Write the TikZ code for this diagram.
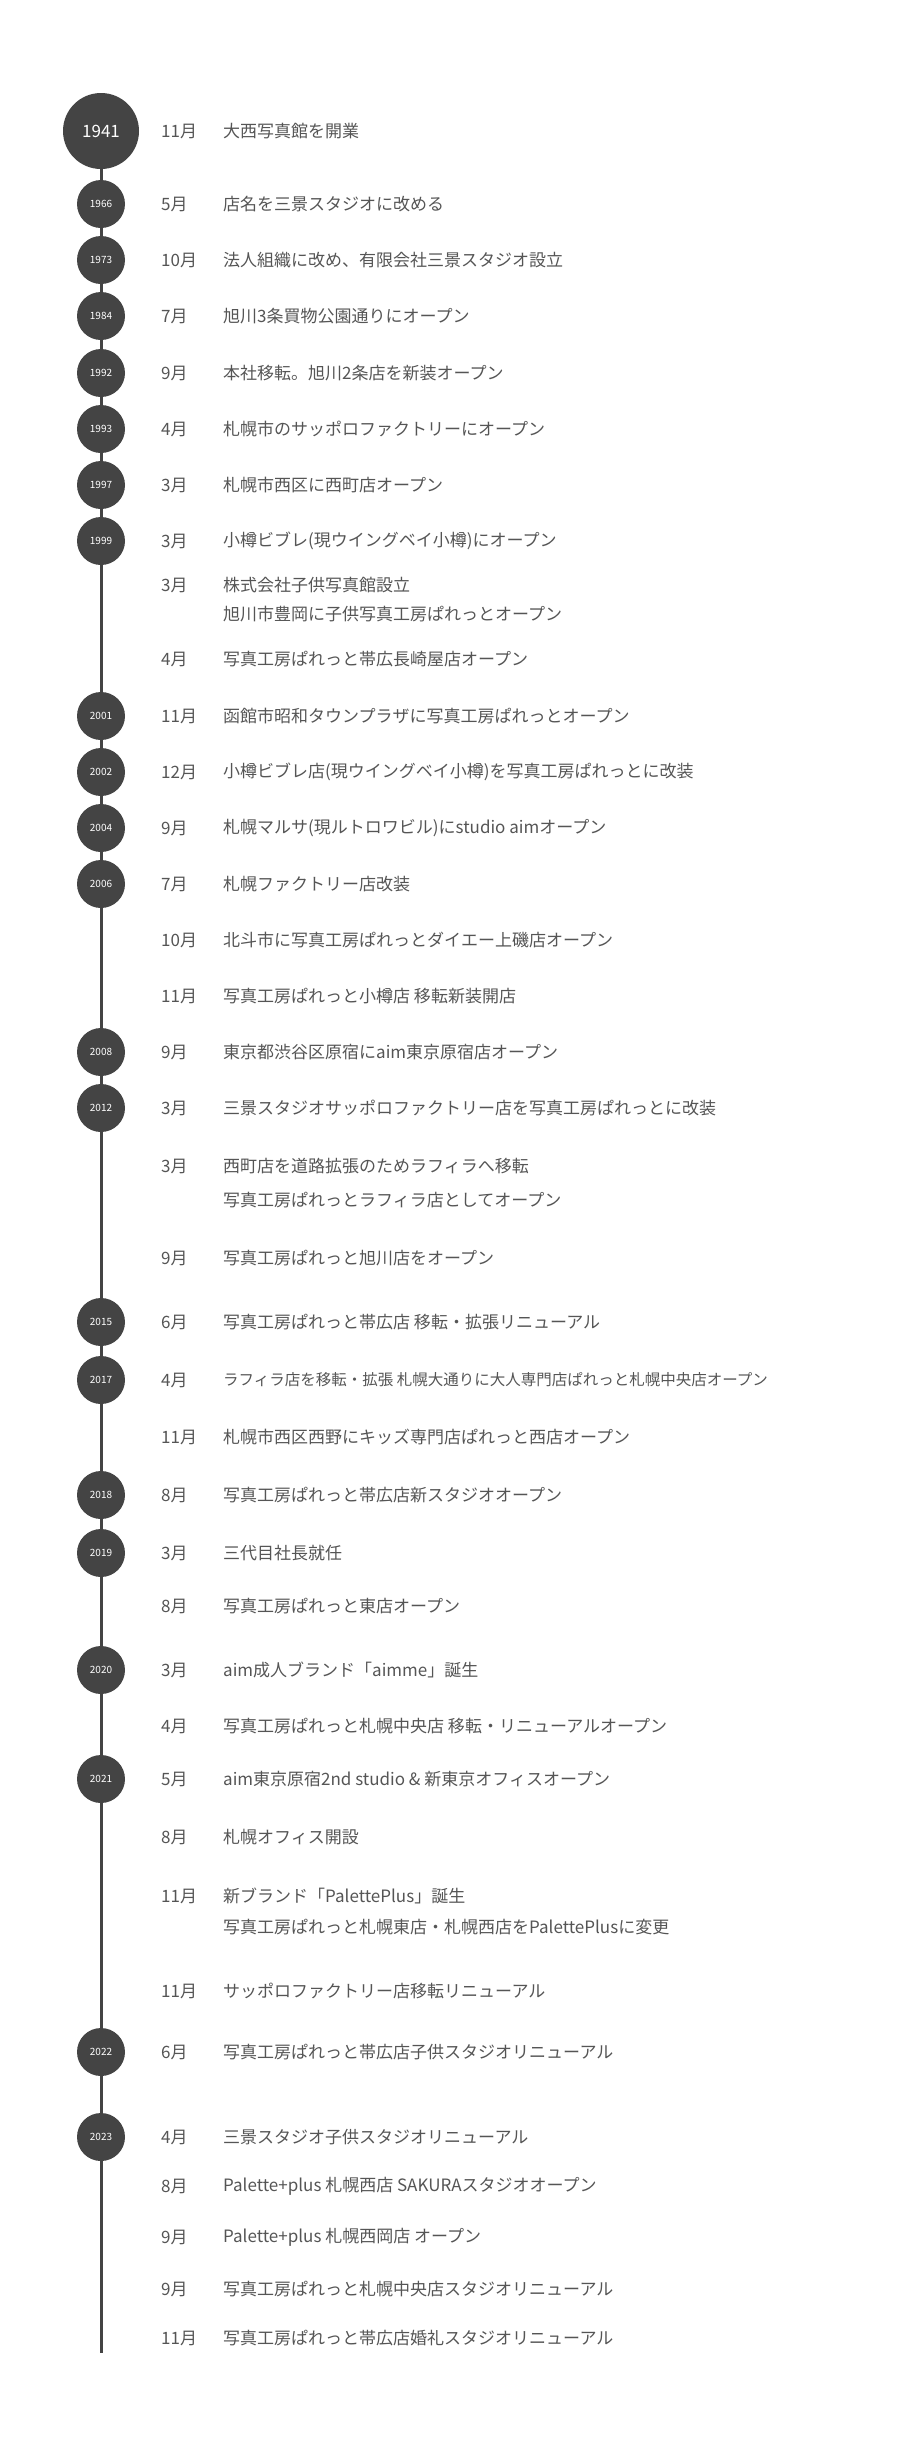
\documentclass[tikz,border=0pt]{standalone}
\usepackage{fontspec}
\setmainfont{Noto Sans CJK JP}
\definecolor{dotgray}{RGB}{68,68,68}
\definecolor{txtgray}{RGB}{85,85,85}
\tikzset{
  yeardot/.style={circle,fill=dotgray,text=white,minimum size=48pt,inner sep=0pt,font=\fontsize{10}{10}\selectfont},
  bigdot/.style={yeardot,minimum size=76pt,font=\fontsize{17}{17}\selectfont},
  monthtxt/.style={anchor=west,inner sep=0pt,text=txtgray,font=\fontsize{17}{17}\selectfont},
  eventtxt/.style={monthtxt}
}
\begin{document}
\begin{tikzpicture}[x=1pt,y=1pt,yscale=-1,xscale=1]
\useasboundingbox (0,0) rectangle (900,2444);
%Timeline axis
\coordinate (axisend) at (101,2353);
\node[bigdot] (y1941) at (101,131) {1941};
\draw[dotgray,line width=3pt] (y1941) -- (axisend);
%Year dots
\foreach \yy/\yr in {204/1966,260/1973,316/1984,373/1992,429/1993,485/1997,541/1999,716/2001,772/2002,828/2004,884/2006,1052/2008,1108/2012,1322/2015,1380/2017,1495/2018,1553/2019,1670/2020,1779/2021,2052/2022,2137/2023}
  \node[yeardot] (y\yr) at (101,\yy) {\yr};
%Months and events
\foreach \yy/\mo/\ev [count=\i] in {
  131/11月/大西写真館を開業,
  204/5月/店名を三景スタジオに改める,
  260/10月/法人組織に改め、有限会社三景スタジオ設立,
  316/7月/旭川3条買物公園通りにオープン,
  373/9月/本社移転。旭川2条店を新装オープン,
  429/4月/札幌市のサッポロファクトリーにオープン,
  485/3月/札幌市西区に西町店オープン,
  541/3月/小樽ビブレ(現ウイングベイ小樽)にオープン,
  585/3月/株式会社子供写真館設立,
  614//旭川市豊岡に子供写真工房ぱれっとオープン,
  659/4月/写真工房ぱれっと帯広長崎屋店オープン,
  716/11月/函館市昭和タウンプラザに写真工房ぱれっとオープン,
  772/12月/小樽ビブレ店(現ウイングベイ小樽)を写真工房ぱれっとに改装,
  828/9月/札幌マルサ(現ルトロワビル)にstudio aimオープン,
  884/7月/札幌ファクトリー店改装,
  940/10月/北斗市に写真工房ぱれっとダイエー上磯店オープン,
  996/11月/写真工房ぱれっと小樽店 移転新装開店,
  1052/9月/東京都渋谷区原宿にaim東京原宿店オープン,
  1108/3月/三景スタジオサッポロファクトリー店を写真工房ぱれっとに改装,
  1166/3月/西町店を道路拡張のためラフィラへ移転,
  1200//写真工房ぱれっとラフィラ店としてオープン,
  1258/9月/写真工房ぱれっと旭川店をオープン,
  1322/6月/写真工房ぱれっと帯広店 移転・拡張リニューアル,
  1380/4月/{\fontsize{15.5}{15.5}\selectfont ラフィラ店を移転・拡張 札幌大通りに大人専門店ぱれっと札幌中央店オープン},
  1437/11月/札幌市西区西野にキッズ専門店ぱれっと西店オープン,
  1495/8月/写真工房ぱれっと帯広店新スタジオオープン,
  1553/3月/三代目社長就任,
  1606/8月/写真工房ぱれっと東店オープン,
  1670/3月/aim成人ブランド「aimme」誕生,
  1726/4月/写真工房ぱれっと札幌中央店 移転・リニューアルオープン,
  1779/5月/aim東京原宿2nd studio \& 新東京オフィスオープン,
  1837/8月/札幌オフィス開設,
  1896/11月/新ブランド「PalettePlus」誕生,
  1927//写真工房ぱれっと札幌東店・札幌西店をPalettePlusに変更,
  1991/11月/サッポロファクトリー店移転リニューアル,
  2052/6月/写真工房ぱれっと帯広店子供スタジオリニューアル,
  2137/4月/三景スタジオ子供スタジオリニューアル,
  2186/8月/Palette+plus 札幌西店 SAKURAスタジオオープン,
  2237/9月/Palette+plus 札幌西岡店 オープン,
  2289/9月/写真工房ぱれっと札幌中央店スタジオリニューアル,
  2338/11月/写真工房ぱれっと帯広店婚礼スタジオリニューアル}{
  \node[monthtxt] (m\i) at (161,\yy) {\mo};
  \node[eventtxt] (e\i) at (223,\yy) {\ev};
}
\end{tikzpicture}
\end{document}
